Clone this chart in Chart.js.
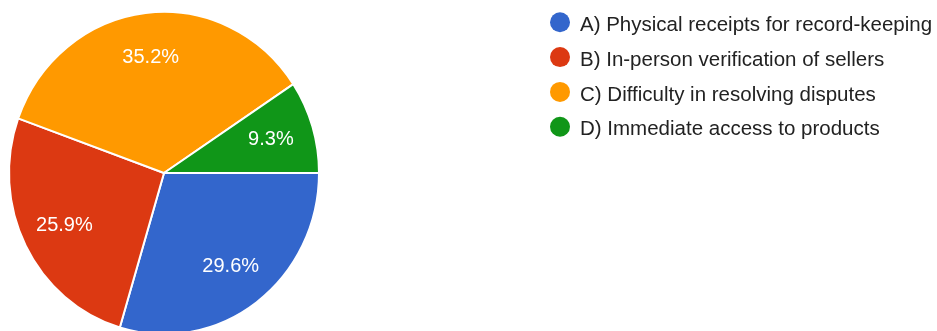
<!DOCTYPE html>
<html>
<head>
<meta charset="utf-8">
<script src="https://cdn.jsdelivr.net/npm/chart.js@4"></script>
<style>
    html, body { margin: 0; padding: 0; background: #fff; }
    canvas { display: block; }
</style>
</head>
<body>
<canvas id="pie" width="937" height="331"></canvas>
<script>
// Answer options and their share of responses (%)
const categories = [
    'A) Physical receipts for record-keeping',
    'B) In-person verification of sellers',
    'C) Difficulty in resolving disputes',
    'D) Immediate access to products'
];
const shares = [29.6, 25.9, 35.2, 9.3];
const colors = ['#3366cc', '#dc3912', '#ff9900', '#109618'];

const FONT = '"Liberation Sans", Arial, sans-serif';
const Y_STRETCH = 1.04; // pie is drawn slightly taller than wide

// Stretch the pie vertically around its centre
const stretchPlugin = {
    id: 'stretch',
    beforeDatasetsDraw(chart) {
        const arc = chart.getDatasetMeta(0).data[0];
        const ctx = chart.ctx;
        ctx.save();
        ctx.translate(arc.x, arc.y);
        ctx.scale(1, Y_STRETCH);
        ctx.translate(-arc.x, -arc.y);
    },
    afterDatasetsDraw(chart) {
        chart.ctx.restore();
    }
};

// Percent labels inside each slice
const sliceLabels = {
    id: 'sliceLabels',
    afterDraw(chart) {
        const ctx = chart.ctx;
        const data = chart.data.datasets[0].data;
        const total = data.reduce((a, b) => a + b, 0);
        ctx.save();
        ctx.font = '20px ' + FONT;
        ctx.fillStyle = '#ffffff';
        ctx.textAlign = 'center';
        ctx.textBaseline = 'middle';
        chart.getDatasetMeta(0).data.forEach((arc, i) => {
            const mid = (arc.startAngle + arc.endAngle) / 2;
            const r = arc.outerRadius * 0.72;
            const x = arc.x + Math.cos(mid) * r;
            const y = arc.y + Math.sin(mid) * r * Y_STRETCH;
            ctx.fillText((data[i] / total * 100).toFixed(1) + '%', x, y);
        });
        ctx.restore();
    }
};

// Legend column on the right
const sideLegend = {
    id: 'sideLegend',
    afterDraw(chart) {
        const ctx = chart.ctx;
        ctx.save();
        ctx.font = '20.5px ' + FONT;
        ctx.textAlign = 'left';
        ctx.textBaseline = 'alphabetic';
        chart.data.labels.forEach((label, i) => {
            const cy = 22.3 + i * 34.8;
            ctx.beginPath();
            ctx.arc(560, cy, 10, 0, Math.PI * 2);
            ctx.fillStyle = colors[i];
            ctx.fill();
            ctx.fillStyle = '#222222';
            ctx.fillText(label, 580, cy + 8.7);
        });
        ctx.restore();
    }
};

new Chart(document.getElementById('pie'), {
    type: 'pie',
    data: {
        labels: categories,
        datasets: [{
            data: shares,
            backgroundColor: colors,
            borderColor: '#ffffff',
            borderWidth: 2
        }]
    },
    options: {
        responsive: false,
        animation: false,
        rotation: 90,
        layout: { padding: { left: 8, top: 17, right: 617, bottom: 2 } },
        plugins: {
            legend: { display: false },
            tooltip: { enabled: false }
        }
    },
    plugins: [stretchPlugin, sliceLabels, sideLegend]
});
</script>
</body>
</html>
